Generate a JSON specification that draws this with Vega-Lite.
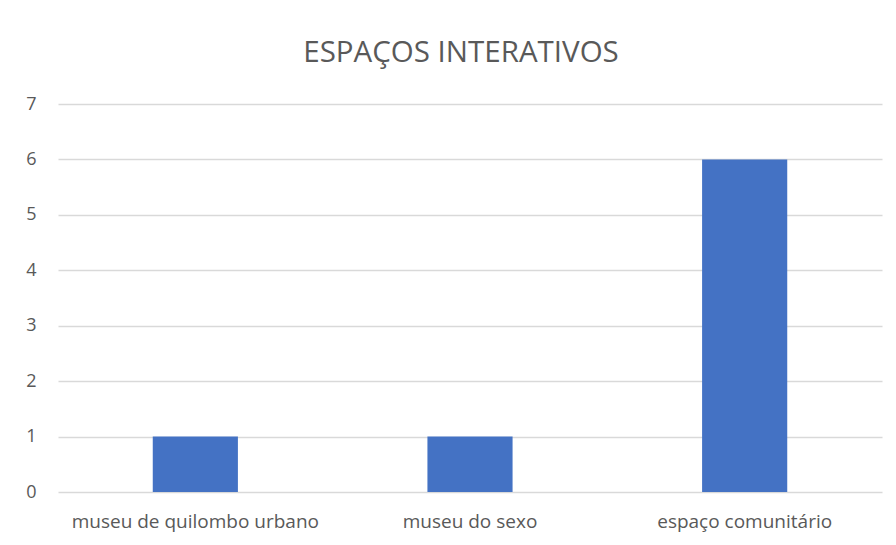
{
  "$schema": "https://vega.github.io/schema/vega-lite/v6.json",
  "autosize": {"type": "none"},
  "padding": {"left": 58, "top": 104, "right": 14, "bottom": 53},
  "width": 824,
  "height": 388,
  "background": "white",
  "title": {
    "text": "ESPAÇOS INTERATIVOS",
    "font": "Open Sans",
    "fontSize": 29.5,
    "fontWeight": "normal",
    "color": "#595959",
    "anchor": "middle",
    "dx": -9,
    "offset": 27
  },
  "data": {
    "values": [
      {"categoria": "museu de quilombo urbano", "valor": 1},
      {"categoria": "museu do sexo", "valor": 1},
      {"categoria": "espaço comunitário", "valor": 6}
    ]
  },
  "mark": {"type": "bar", "color": "#4472C4"},
  "encoding": {
    "x": {
      "field": "categoria",
      "type": "nominal",
      "sort": null,
      "scale": {"paddingInner": 0.69, "paddingOuter": 0.345},
      "axis": {
        "title": null,
        "labelAngle": 0,
        "domain": false,
        "ticks": false,
        "labelPadding": 20,
        "labelLimit": 0,
        "labelFont": "Open Sans",
        "labelFontSize": 19,
        "labelColor": "#595959"
      }
    },
    "y": {
      "field": "valor",
      "type": "quantitative",
      "scale": {"domain": [0, 7], "nice": false},
      "axis": {
        "title": null,
        "values": [0, 1, 2, 3, 4, 5, 6, 7],
        "domain": false,
        "ticks": false,
        "labelPadding": 22,
        "labelFont": "Open Sans",
        "labelFontSize": 18,
        "labelColor": "#595959",
        "gridColor": "#d9d9d9",
        "gridWidth": 1.3
      }
    }
  },
  "config": {"view": {"stroke": null}}
}
